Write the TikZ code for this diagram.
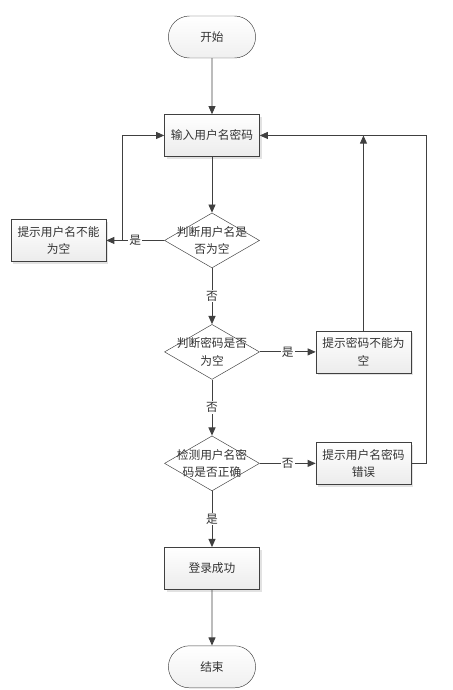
\documentclass[tikz,border=0pt]{standalone}
\usepackage{fontspec}
\newfontfamily\cjkfont{Noto Sans CJK SC}
\usetikzlibrary{positioning,arrows.meta,shapes.misc,shapes.geometric,shadows}
\definecolor{linegray}{HTML}{404040}
\definecolor{textgray}{HTML}{333333}
\tikzset{
    base text/.style = {
        font = \cjkfont\fontsize{10pt}{15pt}\selectfont,
        text = textgray,
        },
    terminal/.style = {
        rounded rectangle,
        draw = linegray,
        top color = white,
        bottom color = gray!12,
        minimum width = 2.85cm,
        minimum height = 1.26cm,
        base text,
        },
    process/.style = {
        rectangle,
        draw = linegray,
        top color = white,
        bottom color = gray!15,
        minimum width = 2.85cm,
        minimum height = 1.26cm,
        align = center,
        drop shadow = {shadow xshift=2pt, shadow yshift=-2pt, fill=gray!45},
        base text,
        },
    decision/.style = {
        diamond,
        draw = linegray,
        fill = white,
        minimum width = 2.85cm,
        minimum height = 1.65cm,
        inner sep = 0pt,
        },
    decision text/.style = {
        align = center,
        base text,
        },
    flow/.style = {
        draw = linegray,
        line width = 0.8pt,
        -{Triangle[length=7pt,width=6pt]},
        },
    answer/.style = {
        fill = white,
        inner sep = 1pt,
        base text,
        },
}

\begin{document}
\begin{tikzpicture}[node distance=1.68cm]
    \useasboundingbox (-6.36,1.11) rectangle (7.2,-19.59);

    \node[terminal] (start) {开始};
    \node[process, below=of start] (input) {输入用户名密码};
    \node[decision, below=of input, label={[decision text]center:判断用户名是\\否为空}] (checkname) {};
    \node[process, left=1.74cm of checkname] (emptyname) {提示用户名不能\\为空};
    \node[decision, below=of checkname, label={[decision text]center:判断密码是否\\为空}] (checkpwd) {};
    \node[process, right=of checkpwd] (emptypwd) {提示密码不能为\\空};
    \node[decision, below=of checkpwd, label={[decision text]center:检测用户名密\\码是否正确}] (verify) {};
    \node[process, right=of verify] (wrong) {提示用户名密码\\错误};
    \node[process, below=of verify] (success) {登录成功};
    \node[terminal, below=of success] (stop) {结束};
    \coordinate (merge) at (emptypwd.north |- input.east);

    \path[flow] (start) -- (input);
    \path[flow] (input) -- (checkname);
    \path[flow] (checkname) -- node[answer] {是} (emptyname);
    \path[flow] (emptyname.east) -- ++(0.48cm,0) |- (input.west);
    \path[flow] (checkname) -- node[answer] {否} (checkpwd);
    \path[flow] (checkpwd) -- node[answer] {是} (emptypwd);
    \path[flow] (emptypwd.north) -- (merge);
    \path[flow] (checkpwd) -- node[answer] {否} (verify);
    \path[flow] (verify) -- node[answer] {否} (wrong);
    \path[flow] (wrong.east) -- ++(0.45cm,0) |- (input.east);
    \path[flow] (verify) -- node[answer] {是} (success);
    \path[flow] (success) -- (stop);
\end{tikzpicture}
\end{document}
